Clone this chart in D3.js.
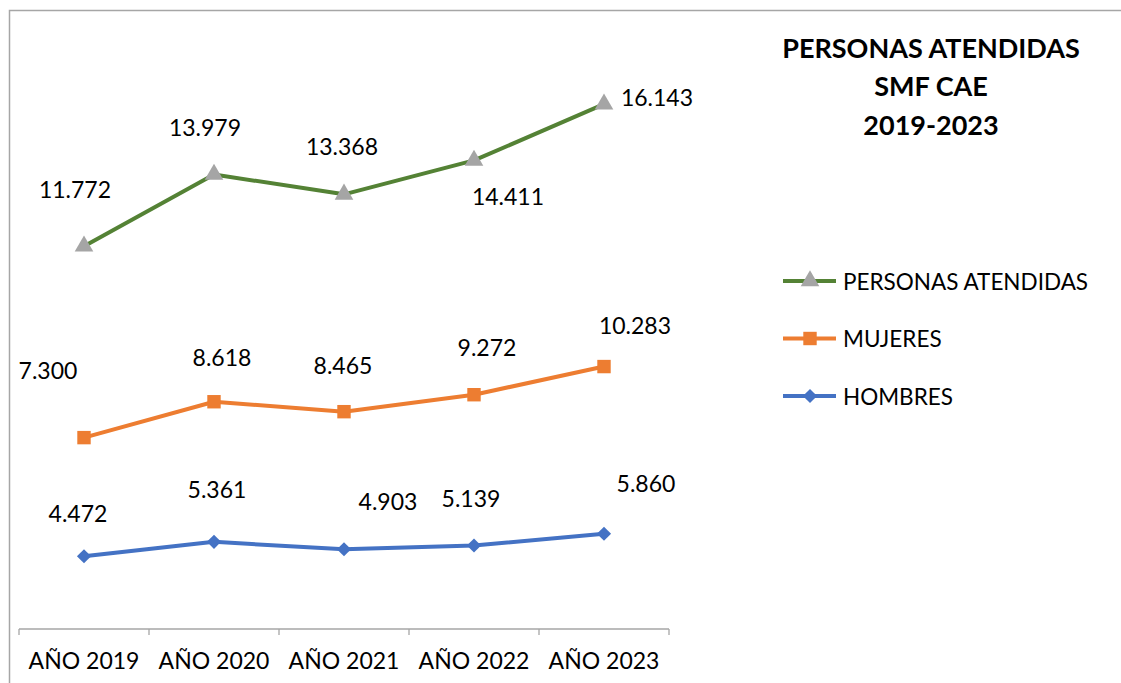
<!DOCTYPE html>
<html>
<head>
<meta charset="utf-8">
<script src="https://cdn.jsdelivr.net/npm/d3@7"></script>
<style>
  body { margin: 0; background: #fff; }
  svg text { font-family: Lato, "Open Sans", sans-serif; fill: #000; }
</style>
</head>
<body>
<div id="chart"></div>
<script>
// datos
var years = ["AÑO 2019", "AÑO 2020", "AÑO 2021", "AÑO 2022", "AÑO 2023"];
var hombres = [4472, 5361, 4903, 5139, 5860];
var mujeres = [7300, 8618, 8465, 9272, 10283];
var personas = [11772, 13979, 13368, 14411, 16143];
var seriesNames = ["PERSONAS ATENDIDAS", "MUJERES", "HOMBRES"];
var titleLines = ["PERSONAS ATENDIDAS", "SMF CAE", "2019-2023"];

// desplazamiento manual de las etiquetas (como en el original)
var labelOffsets = {
  "HOMBRES": [[-6, -43], [3, -53], [44, -48], [-3, -47], [42, -51]],
  "MUJERES": [[-36, -68], [8, -45], [-1, -47], [13, -48], [31, -42]],
  "PERSONAS ATENDIDAS": [[-9, -57], [-9, -47], [-2, -48], [34, 36], [53, -7]]
};

var width = 1121, height = 683;

var svg = d3.select("#chart").append("svg")
    .attr("width", width)
    .attr("height", height);

// borde del gráfico
svg.append("rect")
    .attr("x", 9.5).attr("y", 10.5)
    .attr("width", 1200).attr("height", 800)
    .attr("fill", "none")
    .attr("stroke", "#a6a6a6")
    .attr("stroke-width", 1.5);

var xScale = d3.scaleBand().domain(years).range([19, 669]);
var yScale = d3.scaleLinear().domain([0, 35000]).range([629, 60]);

// líneas apiladas
var stackData = years.map(function(y, i) {
  return { year: y, HOMBRES: hombres[i], MUJERES: mujeres[i], "PERSONAS ATENDIDAS": personas[i] };
});
var stack = d3.stack().keys(["HOMBRES", "MUJERES", "PERSONAS ATENDIDAS"]);
var stacked = stack(stackData);

var styles = {
  "HOMBRES": { line: "#4472c4", marker: "#4472c4", symbol: d3.symbolSquare, size: 100, rot: 45 },
  "MUJERES": { line: "#ed7d31", marker: "#ed7d31", symbol: d3.symbolSquare, size: 180, rot: 0 },
  "PERSONAS ATENDIDAS": { line: "#548235", marker: "#a5a5a5", symbol: d3.symbolTriangle, size: 150, rot: 0 }
};

function cx(d) { return xScale(d.data.year) + xScale.bandwidth() / 2; }

var fmt = d3.formatLocale({ decimal: ",", thousands: ".", grouping: [3], currency: ["", ""] }).format(",d");

// eje x
var xAxis = svg.append("g")
    .attr("transform", "translate(0,629)")
    .call(d3.axisBottom(xScale).tickSize(0).tickPadding(24));
xAxis.select(".domain").attr("stroke", "#a6a6a6").attr("stroke-width", 1.3);
xAxis.selectAll("text").style("font-size", "23px").attr("fill", "#000");
xAxis.selectAll(".tickmark").data(d3.range(years.length + 1)).enter()
    .append("line")
    .attr("x1", function(i) { return 19 + i * xScale.step(); })
    .attr("x2", function(i) { return 19 + i * xScale.step(); })
    .attr("y1", 0).attr("y2", 6)
    .attr("stroke", "#a6a6a6").attr("stroke-width", 1.3);
xAxis.select(".domain").attr("d", "M19,0H669");

stacked.forEach(function(layer) {
  var st = styles[layer.key];
  var line = d3.line().x(cx).y(function(d) { return yScale(d[1]); });
  svg.append("path")
      .datum(layer)
      .attr("d", line)
      .attr("fill", "none")
      .attr("stroke", st.line)
      .attr("stroke-width", 4)
      .attr("stroke-linejoin", "round");
  svg.selectAll(".m-" + layer.key.length).data(layer).enter()
      .append("path")
      .attr("d", d3.symbol().type(st.symbol).size(st.size))
      .attr("transform", function(d) { return "translate(" + cx(d) + "," + yScale(d[1]) + ") rotate(" + st.rot + ")"; })
      .attr("fill", st.marker);
  var offs = labelOffsets[layer.key];
  svg.selectAll(".l-" + layer.key.length).data(layer).enter()
      .append("text")
      .attr("x", function(d, i) { return cx(d) + offs[i][0]; })
      .attr("y", function(d, i) { return yScale(d[1]) + offs[i][1]; })
      .attr("text-anchor", "middle")
      .attr("dominant-baseline", "central")
      .style("font-size", "23px")
      .text(function(d) { return fmt(d[1] - d[0]); });
});

// título
svg.append("g").selectAll("text").data(titleLines).enter()
    .append("text")
    .attr("x", 931)
    .attr("y", function(d, i) { return 47 + i * 38.5; })
    .attr("text-anchor", "middle")
    .attr("dominant-baseline", "central")
    .style("font-size", "27px")
    .style("font-weight", "bold")
    .text(function(d) { return d; });

// leyenda
var legend = svg.append("g").selectAll("g").data(seriesNames).enter()
    .append("g")
    .attr("transform", function(d, i) { return "translate(783," + (281 + i * 57.5) + ")"; });
legend.append("line")
    .attr("x1", 0).attr("x2", 53)
    .attr("stroke", function(d) { return styles[d].line; })
    .attr("stroke-width", 4);
legend.append("path")
    .attr("transform", function(d) { return "translate(27,0) rotate(" + styles[d].rot + ")"; })
    .attr("d", function(d) { return d3.symbol().type(styles[d].symbol).size(styles[d].size)(); })
    .attr("fill", function(d) { return styles[d].marker; });
legend.append("text")
    .attr("x", 60)
    .attr("dominant-baseline", "central")
    .style("font-size", "22.5px")
    .text(function(d) { return d; });
</script>
</body>
</html>
